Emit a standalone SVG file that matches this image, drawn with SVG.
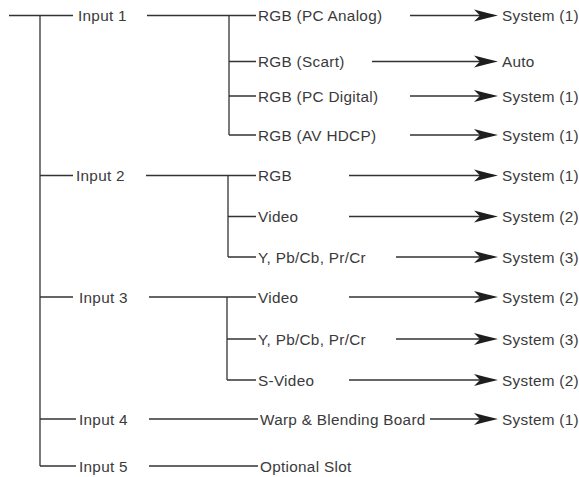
<svg xmlns="http://www.w3.org/2000/svg" width="579" height="477" viewBox="0 0 579 477">
<style>
  .ln { stroke:#333; stroke-width:1.3; fill:none; }
  .t { font-family:"Liberation Sans", Arial, sans-serif; font-size:15.3px; letter-spacing:0.3px; fill:#3a3a3a; }
  .ah { fill:#1e1e1e; }
</style>
<defs>
  <path id="head" class="ah" d="M0,0 Q-11,-2.5 -24,-6 L-18,0 L-24,6 Q-11,2.5 0,0 Z"/>
</defs>
<rect width="579" height="477" fill="#fff"/>
<g id="connectors">
  <path class="ln" d="M9,15.5 H73 M40,15.5 V466 M40,175.5 H73 M40,297 H73 M40,419 H76 M40,466 H76"/>
  <path class="ln" d="M147,15.5 H256 M229,15.5 V135 M229,61.5 H256 M229,96 H256 M229,135 H256"/>
  <path class="ln" d="M146,175.5 H256 M228,175.5 V257 M228,216.5 H256 M228,257 H256"/>
  <path class="ln" d="M149,297 H256 M227,297 V380 M227,339 H256 M227,380 H256"/>
  <path class="ln" d="M149,419 H258 M149,466 H258"/>
  <path class="ln" d="M410,15.5 H485 M372,61.5 H485 M410,96 H485 M410,135 H485 M349,175.5 H485 M349,216.5 H485 M396,257 H485 M349,297 H485 M396,339 H485 M349,380 H485 M430,419 H485"/>
  <use href="#head" x="498" y="15.5"/>
  <use href="#head" x="498" y="61.5"/>
  <use href="#head" x="498" y="96"/>
  <use href="#head" x="498" y="135"/>
  <use href="#head" x="498" y="175.5"/>
  <use href="#head" x="498" y="216.5"/>
  <use href="#head" x="498" y="257"/>
  <use href="#head" x="498" y="297"/>
  <use href="#head" x="498" y="339"/>
  <use href="#head" x="498" y="380"/>
  <use href="#head" x="498" y="419"/>
</g>
<g id="input1"><text class="t" x="78" y="21">Input 1</text></g>
<g id="input2"><text class="t" x="76" y="181">Input 2</text></g>
<g id="input3"><text class="t" x="79" y="302.5">Input 3</text></g>
<g id="input4"><text class="t" x="79" y="424.5">Input 4</text></g>
<g id="input5"><text class="t" x="79" y="471.5">Input 5</text></g>
<g id="rgb-pc-analog"><text class="t" x="258" y="21">RGB (PC Analog)</text></g>
<g id="rgb-scart"><text class="t" x="258" y="67">RGB (Scart)</text></g>
<g id="rgb-pc-digital"><text class="t" x="258" y="101.5">RGB (PC Digital)</text></g>
<g id="rgb-av-hdcp"><text class="t" x="258" y="140.5">RGB (AV HDCP)</text></g>
<g id="rgb"><text class="t" x="258" y="181">RGB</text></g>
<g id="video2"><text class="t" x="258" y="222">Video</text></g>
<g id="ypbpr2"><text class="t" x="258" y="262.5">Y, Pb/Cb, Pr/Cr</text></g>
<g id="video3"><text class="t" x="258" y="302.5">Video</text></g>
<g id="ypbpr3"><text class="t" x="258" y="344.5">Y, Pb/Cb, Pr/Cr</text></g>
<g id="svideo"><text class="t" x="258" y="385.5">S-Video</text></g>
<g id="warp"><text class="t" x="260" y="424.5">Warp &amp; Blending Board</text></g>
<g id="optional"><text class="t" x="260" y="471.5">Optional Slot</text></g>
<g id="out1"><text class="t" x="502" y="21">System (1)</text></g>
<g id="out2"><text class="t" x="502" y="67">Auto</text></g>
<g id="out3"><text class="t" x="502" y="101.5">System (1)</text></g>
<g id="out4"><text class="t" x="502" y="140.5">System (1)</text></g>
<g id="out5"><text class="t" x="502" y="181">System (1)</text></g>
<g id="out6"><text class="t" x="502" y="222">System (2)</text></g>
<g id="out7"><text class="t" x="502" y="262.5">System (3)</text></g>
<g id="out8"><text class="t" x="502" y="302.5">System (2)</text></g>
<g id="out9"><text class="t" x="502" y="344.5">System (3)</text></g>
<g id="out10"><text class="t" x="502" y="385.5">System (2)</text></g>
<g id="out11"><text class="t" x="502" y="424.5">System (1)</text></g>
</svg>
